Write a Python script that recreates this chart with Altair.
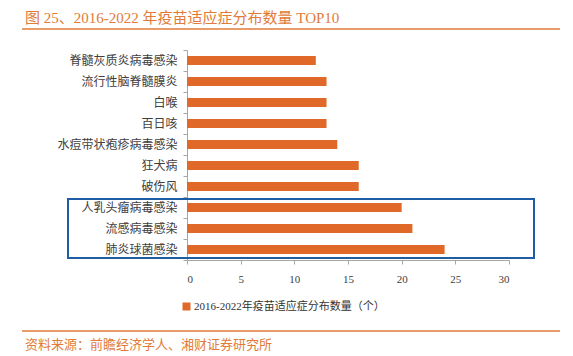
import altair as alt
import pandas as pd

categories = ["脊髓灰质炎病毒感染", "流行性脑脊髓膜炎", "白喉", "百日咳", "水痘带状疱疹病毒感染",
              "狂犬病", "破伤风", "人乳头瘤病毒感染", "流感病毒感染", "肺炎球菌感染"]
values = [12, 13, 13, 13, 14, 16, 16, 20, 21, 24]
series_name = "2016-2022年疫苗适应症分布数量（个）"
x_ticks = [0, 5, 10, 15, 20, 25, 30]
title_text = "图 25、2016-2022 年疫苗适应症分布数量 TOP10"
source_text = "资料来源：前瞻经济学人、湘财证券研究所"

ORANGE = "#E0692A"
TITLE_ORANGE = "#E07B39"
BLUE = "#1F5CA6"
FONT = "Liberation Serif, Noto Sans CJK SC"

df = pd.DataFrame({"cat": categories, "val": values, "series": series_name})

bars = alt.Chart(df).mark_bar(size=9).encode(
    y=alt.Y("cat:N", sort=categories, title=None,
            scale=alt.Scale(paddingInner=0, paddingOuter=0),
            axis=alt.Axis(tickBand="extent", domainColor="#A6A6A6", tickColor="#A6A6A6",
                          tickSize=4, labelPadding=6, labelFontSize=12, labelColor="#404040",
                          labelFont=FONT, labelLimit=300)),
    x=alt.X("val:Q", title=None,
            scale=alt.Scale(domain=[0, 30], nice=False),
            axis=alt.Axis(values=x_ticks, grid=False, domainColor="#A6A6A6", tickColor="#A6A6A6",
                          tickSize=4, labelPadding=9, labelFontSize=11, labelColor="#404040",
                          labelFont=FONT)),
    color=alt.Color("series:N", scale=alt.Scale(range=[ORANGE]),
                    legend=alt.Legend(title=None, orient="none", legendX=-6, legendY=251,
                                      symbolType="square", symbolSize=64, symbolStrokeWidth=0,
                                      labelFontSize=11, labelColor="#333333", labelFont=FONT,
                                      labelOffset=2, labelLimit=400)),
)

one = alt.Data(values=[{"a": 1}])

box = alt.Chart(one).mark_rect(fill=None, stroke=BLUE, strokeWidth=2).encode(
    x=alt.value(-119), x2=alt.value(347), y=alt.value(149), y2=alt.value(208))

title = alt.Chart(one).mark_text(align="left", baseline="middle", fontSize=15,
                                  color=TITLE_ORANGE, font=FONT).encode(
    x=alt.value(-162), y=alt.value(-32), text=alt.value(title_text))

top_line = alt.Chart(one).mark_rule(color=TITLE_ORANGE, strokeWidth=1.5).encode(
    x=alt.value(-165), x2=alt.value(373), y=alt.value(-21))

bottom_line = alt.Chart(one).mark_rule(color=TITLE_ORANGE, strokeWidth=1.5).encode(
    x=alt.value(-165), x2=alt.value(373), y=alt.value(281))

source = alt.Chart(one).mark_text(align="left", baseline="middle", fontSize=13,
                                   color=TITLE_ORANGE, font=FONT).encode(
    x=alt.value(-162), y=alt.value(295), text=alt.value(source_text))

chart = alt.layer(bars, box, title, top_line, bottom_line, source).properties(
    width=322, height=210,
    autosize=alt.AutoSizeParams(type="none"),
    padding={"left": 179, "top": 42, "right": 56, "bottom": 100},
).configure_view(stroke=None)

chart.save("out.html", embed_options={"renderer": "svg", "actions": False})
